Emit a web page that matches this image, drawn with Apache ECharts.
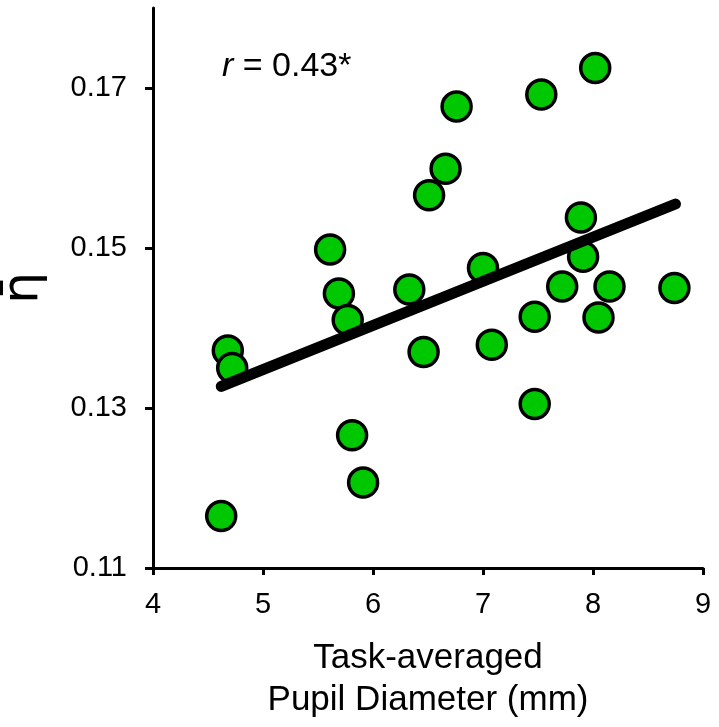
<!DOCTYPE html>
<html>
<head>
<meta charset="utf-8">
<script src="https://cdn.jsdelivr.net/npm/echarts@6/dist/echarts.min.js"></script>
<style>
html,body{margin:0;padding:0;background:#fff;}
#c{width:719px;height:727px;}
</style>
</head>
<body>
<div id="c"></div>
<script>
// Data
const pupilDiameter = [4.62, 4.68, 4.72, 5.61, 5.69, 5.77, 5.81, 5.91, 6.33, 6.46, 6.51, 6.66, 6.76,
  7.00, 7.08, 7.47, 7.47, 7.53, 7.72, 7.89, 7.91, 8.02, 8.05, 8.15, 8.74];
const etaBar = [0.1165, 0.1372, 0.1350, 0.1498, 0.1443, 0.1410, 0.1266, 0.1207, 0.1448, 0.1370, 0.1566, 0.1599, 0.1677,
  0.1475, 0.1379, 0.1305, 0.1414, 0.1692, 0.1452, 0.1538, 0.1489, 0.1725, 0.1413, 0.1452, 0.1450];
const fitX = [4.62, 8.75];
const fitY = [0.1327, 0.1555];
const yTicks = [0.11, 0.13, 0.15, 0.17];
const annotation = '= 0.43*';

const FONT = 'Liberation Sans, Arial, sans-serif';
const chart = echarts.init(document.getElementById('c'), null, {renderer: 'canvas'});

const points = pupilDiameter.map((x, i) => [x, etaBar[i]]);
const fit = fitX.map((x, i) => [x, fitY[i]]);

chart.setOption({
  animation: false,
  backgroundColor: '#fff',
  grid: {left: 153, right: 16, top: 8, bottom: 159, containLabel: false, outerBoundsMode: 'none'},
  xAxis: {
    type: 'value', min: 4, max: 9, interval: 1,
    axisLine: {show: true, lineStyle: {color: '#000', width: 3}},
    axisTick: {show: true, inside: false, length: 7, lineStyle: {color: '#000', width: 3}},
    splitLine: {show: false},
    axisLabel: {color: '#000', fontSize: 29, fontFamily: FONT, margin: 22},
    name: 'Task-averaged\nPupil Diameter (mm)',
    nameLocation: 'middle',
    nameGap: 69,
    nameTextStyle: {color: '#000', fontSize: 35, fontFamily: FONT, lineHeight: 42}
  },
  yAxis: {
    type: 'value', min: 0.11, max: 0.18,
    axisLine: {show: true, lineStyle: {color: '#000', width: 3}},
    axisTick: {show: true, inside: false, length: 8, customValues: yTicks, lineStyle: {color: '#000', width: 3}},
    splitLine: {show: false},
    axisLabel: {color: '#000', fontSize: 29, fontFamily: FONT, margin: 26, customValues: yTicks,
      formatter: v => v.toFixed(2)},
    name: 'η\u0304',
    nameLocation: 'middle',
    nameRotate: 90,
    nameGap: 104,
    nameTextStyle: {color: '#000', fontSize: 50, fontFamily: 'DejaVu Sans, sans-serif'}
  },
  graphic: [{
    type: 'text', left: 222, top: 50, z: 10,
    style: {
      text: '{i|r} {n|' + annotation + '}',
      rich: {
        i: {fontStyle: 'italic', fontSize: 34, fontFamily: FONT, fill: '#000'},
        n: {fontSize: 34, fontFamily: FONT, fill: '#000'}
      },
      fontSize: 34, fontFamily: FONT, fill: '#000'
    }
  }],
  series: [{
    type: 'scatter',
    data: points,
    symbol: 'circle',
    symbolSize: 29,
    itemStyle: {color: '#00C800', borderColor: '#000', borderWidth: 3.5, opacity: 1},
    z: 2
  }, {
    type: 'line',
    data: fit,
    symbol: 'none',
    lineStyle: {color: '#000', width: 11, cap: 'round'},
    z: 3
  }]
});
</script>
</body>
</html>
